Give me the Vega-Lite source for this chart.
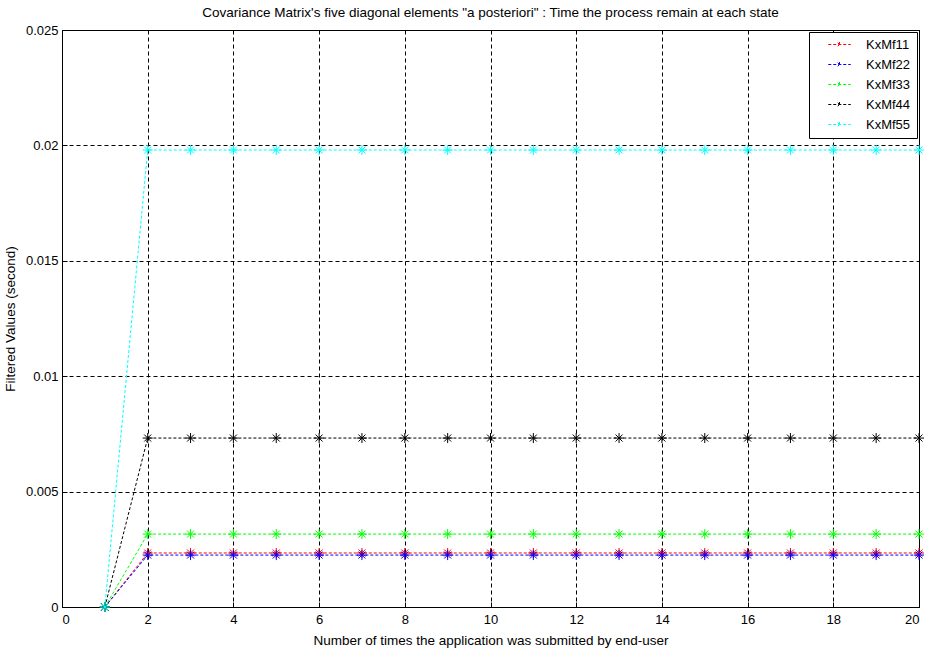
{
  "$schema": "https://vega.github.io/schema/vega-lite/v6.json",
  "width": 857,
  "height": 577,
  "autosize": {"type": "none"},
  "padding": {"left": 62, "top": 30, "right": 12, "bottom": 46},
  "background": "white",
  "title": {"text": "Covariance Matrix's five diagonal elements \"a posteriori\" : Time the process remain at each state", "fontSize": 13.5, "fontWeight": "normal", "font": "Liberation Sans", "color": "black", "offset": 5},
  "config": {
    "view": {"stroke": "black", "strokeWidth": 1},
    "axis": {"labelFont": "Liberation Sans", "titleFont": "Liberation Sans", "labelFontSize": 13, "titleFontSize": 13.5, "titleFontWeight": "normal", "labelColor": "black", "titleColor": "black", "domainColor": "black", "tickColor": "black", "gridColor": "black", "gridDash": [4, 3], "gridOpacity": 1, "gridWidth": 1, "tickSize": -5, "domainWidth": 1}
  },
  "data": {"values": [
    {"x": 1, "series": "KxMf11", "v": 0}, {"x": 2, "series": "KxMf11", "v": 0.00234}, {"x": 3, "series": "KxMf11", "v": 0.00234}, {"x": 4, "series": "KxMf11", "v": 0.00234}, {"x": 5, "series": "KxMf11", "v": 0.00234}, {"x": 6, "series": "KxMf11", "v": 0.00234}, {"x": 7, "series": "KxMf11", "v": 0.00234}, {"x": 8, "series": "KxMf11", "v": 0.00234}, {"x": 9, "series": "KxMf11", "v": 0.00234}, {"x": 10, "series": "KxMf11", "v": 0.00234}, {"x": 11, "series": "KxMf11", "v": 0.00234}, {"x": 12, "series": "KxMf11", "v": 0.00234}, {"x": 13, "series": "KxMf11", "v": 0.00234}, {"x": 14, "series": "KxMf11", "v": 0.00234}, {"x": 15, "series": "KxMf11", "v": 0.00234}, {"x": 16, "series": "KxMf11", "v": 0.00234}, {"x": 17, "series": "KxMf11", "v": 0.00234}, {"x": 18, "series": "KxMf11", "v": 0.00234}, {"x": 19, "series": "KxMf11", "v": 0.00234}, {"x": 20, "series": "KxMf11", "v": 0.00234},
    {"x": 1, "series": "KxMf22", "v": 0}, {"x": 2, "series": "KxMf22", "v": 0.00225}, {"x": 3, "series": "KxMf22", "v": 0.00225}, {"x": 4, "series": "KxMf22", "v": 0.00225}, {"x": 5, "series": "KxMf22", "v": 0.00225}, {"x": 6, "series": "KxMf22", "v": 0.00225}, {"x": 7, "series": "KxMf22", "v": 0.00225}, {"x": 8, "series": "KxMf22", "v": 0.00225}, {"x": 9, "series": "KxMf22", "v": 0.00225}, {"x": 10, "series": "KxMf22", "v": 0.00225}, {"x": 11, "series": "KxMf22", "v": 0.00225}, {"x": 12, "series": "KxMf22", "v": 0.00225}, {"x": 13, "series": "KxMf22", "v": 0.00225}, {"x": 14, "series": "KxMf22", "v": 0.00225}, {"x": 15, "series": "KxMf22", "v": 0.00225}, {"x": 16, "series": "KxMf22", "v": 0.00225}, {"x": 17, "series": "KxMf22", "v": 0.00225}, {"x": 18, "series": "KxMf22", "v": 0.00225}, {"x": 19, "series": "KxMf22", "v": 0.00225}, {"x": 20, "series": "KxMf22", "v": 0.00225},
    {"x": 1, "series": "KxMf33", "v": 0}, {"x": 2, "series": "KxMf33", "v": 0.00316}, {"x": 3, "series": "KxMf33", "v": 0.00316}, {"x": 4, "series": "KxMf33", "v": 0.00316}, {"x": 5, "series": "KxMf33", "v": 0.00316}, {"x": 6, "series": "KxMf33", "v": 0.00316}, {"x": 7, "series": "KxMf33", "v": 0.00316}, {"x": 8, "series": "KxMf33", "v": 0.00316}, {"x": 9, "series": "KxMf33", "v": 0.00316}, {"x": 10, "series": "KxMf33", "v": 0.00316}, {"x": 11, "series": "KxMf33", "v": 0.00316}, {"x": 12, "series": "KxMf33", "v": 0.00316}, {"x": 13, "series": "KxMf33", "v": 0.00316}, {"x": 14, "series": "KxMf33", "v": 0.00316}, {"x": 15, "series": "KxMf33", "v": 0.00316}, {"x": 16, "series": "KxMf33", "v": 0.00316}, {"x": 17, "series": "KxMf33", "v": 0.00316}, {"x": 18, "series": "KxMf33", "v": 0.00316}, {"x": 19, "series": "KxMf33", "v": 0.00316}, {"x": 20, "series": "KxMf33", "v": 0.00316},
    {"x": 1, "series": "KxMf44", "v": 0}, {"x": 2, "series": "KxMf44", "v": 0.00732}, {"x": 3, "series": "KxMf44", "v": 0.00732}, {"x": 4, "series": "KxMf44", "v": 0.00732}, {"x": 5, "series": "KxMf44", "v": 0.00732}, {"x": 6, "series": "KxMf44", "v": 0.00732}, {"x": 7, "series": "KxMf44", "v": 0.00732}, {"x": 8, "series": "KxMf44", "v": 0.00732}, {"x": 9, "series": "KxMf44", "v": 0.00732}, {"x": 10, "series": "KxMf44", "v": 0.00732}, {"x": 11, "series": "KxMf44", "v": 0.00732}, {"x": 12, "series": "KxMf44", "v": 0.00732}, {"x": 13, "series": "KxMf44", "v": 0.00732}, {"x": 14, "series": "KxMf44", "v": 0.00732}, {"x": 15, "series": "KxMf44", "v": 0.00732}, {"x": 16, "series": "KxMf44", "v": 0.00732}, {"x": 17, "series": "KxMf44", "v": 0.00732}, {"x": 18, "series": "KxMf44", "v": 0.00732}, {"x": 19, "series": "KxMf44", "v": 0.00732}, {"x": 20, "series": "KxMf44", "v": 0.00732},
    {"x": 1, "series": "KxMf55", "v": 0}, {"x": 2, "series": "KxMf55", "v": 0.0198}, {"x": 3, "series": "KxMf55", "v": 0.0198}, {"x": 4, "series": "KxMf55", "v": 0.0198}, {"x": 5, "series": "KxMf55", "v": 0.0198}, {"x": 6, "series": "KxMf55", "v": 0.0198}, {"x": 7, "series": "KxMf55", "v": 0.0198}, {"x": 8, "series": "KxMf55", "v": 0.0198}, {"x": 9, "series": "KxMf55", "v": 0.0198}, {"x": 10, "series": "KxMf55", "v": 0.0198}, {"x": 11, "series": "KxMf55", "v": 0.0198}, {"x": 12, "series": "KxMf55", "v": 0.0198}, {"x": 13, "series": "KxMf55", "v": 0.0198}, {"x": 14, "series": "KxMf55", "v": 0.0198}, {"x": 15, "series": "KxMf55", "v": 0.0198}, {"x": 16, "series": "KxMf55", "v": 0.0198}, {"x": 17, "series": "KxMf55", "v": 0.0198}, {"x": 18, "series": "KxMf55", "v": 0.0198}, {"x": 19, "series": "KxMf55", "v": 0.0198}, {"x": 20, "series": "KxMf55", "v": 0.0198}
  ]},
  "encoding": {
    "x": {"field": "x", "type": "quantitative", "scale": {"domain": [0, 20], "nice": false}, "axis": {"values": [0, 2, 4, 6, 8, 10, 12, 14, 16, 18, 20], "title": "Number of times the application was submitted by end-user", "labelPadding": 11, "titlePadding": 7}},
    "y": {"field": "v", "type": "quantitative", "scale": {"domain": [0, 0.025], "nice": false}, "axis": {"values": [0, 0.005, 0.01, 0.015, 0.02, 0.025], "format": ".3~f", "title": "Filtered Values (second)", "labelPadding": 9, "titlePadding": 8}},
    "color": {"field": "series", "type": "nominal", "scale": {"domain": ["KxMf11", "KxMf22", "KxMf33", "KxMf44", "KxMf55"], "range": ["#ff0000", "#0000ff", "#00ff00", "#000000", "#00ffff"]}}
  },
  "layer": [
    {
      "mark": {"type": "line", "strokeWidth": 1, "strokeDash": [3, 2]},
      "encoding": {
        "color": {"field": "series", "type": "nominal", "legend": {"title": null, "orient": "none", "legendX": 747, "legendY": 2, "strokeColor": "black", "fillColor": "white", "padding": 6, "cornerRadius": 0, "labelFont": "Liberation Sans", "labelFontSize": 13, "labelColor": "black", "symbolType": "M-2.25,0H2.25M0,-0.5V0.5M-0.36,-0.36L0.36,0.36M-0.36,0.36L0.36,-0.36", "symbolSize": 100, "symbolStrokeWidth": 1, "symbolDash": [3, 2], "symbolFillColor": "transparent", "symbolOffset": 18, "rowPadding": 6, "labelOffset": 20}}
      }
    },
    {
      "mark": {"type": "point", "shape": "M-1,0H1M0,-1V1M-0.7,-0.7L0.7,0.7M-0.7,0.7L0.7,-0.7", "size": 100, "filled": false, "strokeWidth": 1, "opacity": 1},
      "encoding": {"color": {"field": "series", "type": "nominal", "legend": null}}
    }
  ]
}
